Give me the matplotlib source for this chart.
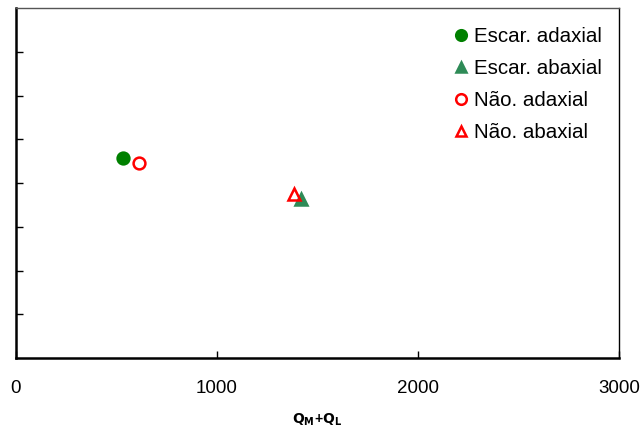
import matplotlib.pyplot as plt

plt.rcParams['font.family'] = ['Liberation Sans', 'DejaVu Sans']

# Data
labels = ["Escar. adaxial", "Escar. abaxial", "Não. adaxial", "Não. abaxial"]
x_vals = [534, 1418, 613, 1383]
y_vals = [4.57, 3.63, 4.46, 3.75]
markers = ["o", "^", "o", "^"]
face_colors = ["#008000", "#2e8b57", "none", "none"]
edge_colors = ["#008000", "#2e8b57", "#ff0000", "#ff0000"]

x_ticks = [0, 1000, 2000, 3000]
y_ticks = [1, 2, 3, 4, 5, 6, 7]


def plot_chart() -> None:
    fig = plt.figure(figsize=(6.44, 4.30), dpi=100)
    ax = fig.add_axes([15.5 / 644, 1 - 358 / 430, 603.5 / 644, 350 / 430])

    for x, y, m, fc, ec, lab in zip(x_vals, y_vals, markers,
                                    face_colors, edge_colors, labels):
        ax.plot(x, y, linestyle="none", marker=m, markersize=8.5,
                markerfacecolor=fc, markeredgecolor=ec,
                markeredgewidth=1.8, label=lab)

    ax.set_xlim(0, 3000)
    ax.set_ylim(0, 8)
    ax.set_xticks(x_ticks)
    ax.set_xticklabels([str(t) for t in x_ticks], fontsize=13.5)
    ax.set_yticks(y_ticks)
    ax.set_yticklabels([])
    ax.tick_params(direction="in", length=5, width=1, colors="black")
    ax.tick_params(axis="x", pad=16)

    ax.spines["left"].set_linewidth(1.8)
    ax.spines["bottom"].set_linewidth(1.8)
    ax.spines["top"].set_linewidth(1.0)
    ax.spines["top"].set_color("#555555")
    ax.spines["right"].set_linewidth(1.0)

    ax.set_xlabel(r"$\mathbf{Q_M}$+$\mathbf{Q_L}$", fontsize=10,
                  fontweight="bold", labelpad=10)

    ax.legend(loc="upper right", frameon=False, fontsize=14.8,
              handlelength=0.6, handletextpad=0.33, labelspacing=0.64,
              borderpad=0, borderaxespad=0,
              bbox_to_anchor=(0.972, 0.946), markerscale=0.9)

    fig.savefig("out.png", dpi=100)


if __name__ == "__main__":
    plot_chart()
